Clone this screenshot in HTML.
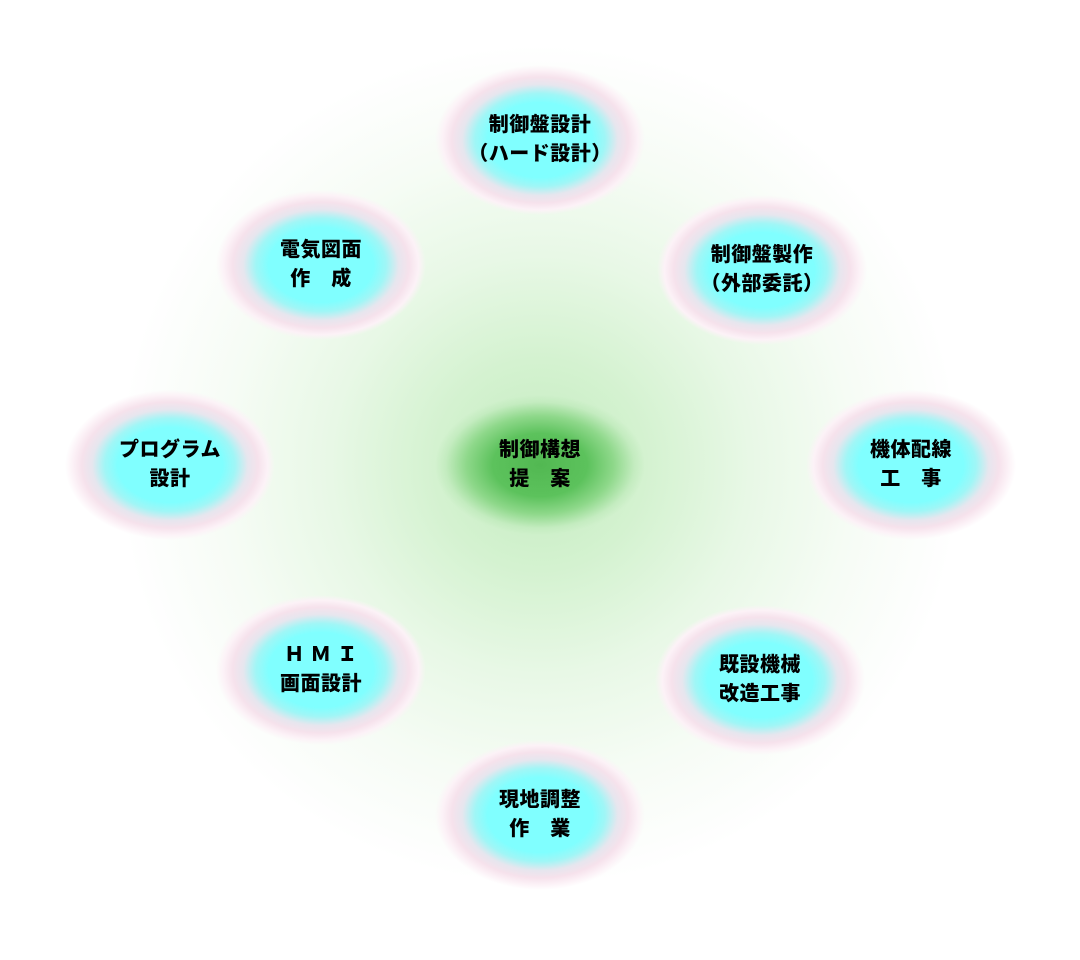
<!DOCTYPE html>
<html><head><meta charset="utf-8"><style>
html,body{margin:0;padding:0;width:1080px;height:960px;background:#fff;overflow:hidden}
.bg{position:absolute;left:120px;top:45px;width:840px;height:840px;border-radius:50%;
background:radial-gradient(closest-side,#c4ecc0 0%,#d4f2d0 25%,#e8f8e6 50%,#f6fcf5 75%,#fdfefd 95%,#ffffff 100%)}
.n{position:absolute;width:210px;height:150px;display:flex;align-items:center;justify-content:center;text-align:center;
background:radial-gradient(closest-side,#80ffff 0%,#80ffff 50%,#a0f6f6 62%,#e6e6ee 74%,#f6e2ec 84%,#fcf2f7 93%,rgba(255,255,255,0) 100%);
font-family:"Liberation Sans","Noto Sans CJK JP",sans-serif;font-weight:900;font-size:20px;line-height:29px;color:#000;letter-spacing:0.5px}
.c{position:absolute;left:435px;top:395px;width:210px;height:140px;display:flex;align-items:center;justify-content:center;text-align:center;
background:radial-gradient(closest-side,#52b852 0%,#5cc25c 45%,#8ed88a 70%,#c4ecc0 90%,rgba(196,236,192,0) 100%);
font-family:"Liberation Sans","Noto Sans CJK JP",sans-serif;font-weight:900;font-size:20px;line-height:29px;color:#000;letter-spacing:0.5px}
</style></head><body>
<div class="bg"></div>
<div class="c">制御構想<br>提　案</div>
<div class="n" style="left:435px;top:65px">制御盤設計<br>（ハード設計）</div>
<div class="n" style="left:657px;top:195px">制御盤製作<br>（外部委託）</div>
<div class="n" style="left:806px;top:390px">機体配線<br>工　事</div>
<div class="n" style="left:655px;top:605px">既設機械<br>改造工事</div>
<div class="n" style="left:435px;top:740px">現地調整<br>作　業</div>
<div class="n" style="left:216px;top:595px">Ｈ Ｍ Ｉ<br>画面設計</div>
<div class="n" style="left:65px;top:390px">プログラム<br>設計</div>
<div class="n" style="left:216px;top:190px">電気図面<br>作　成</div>
</body></html>
